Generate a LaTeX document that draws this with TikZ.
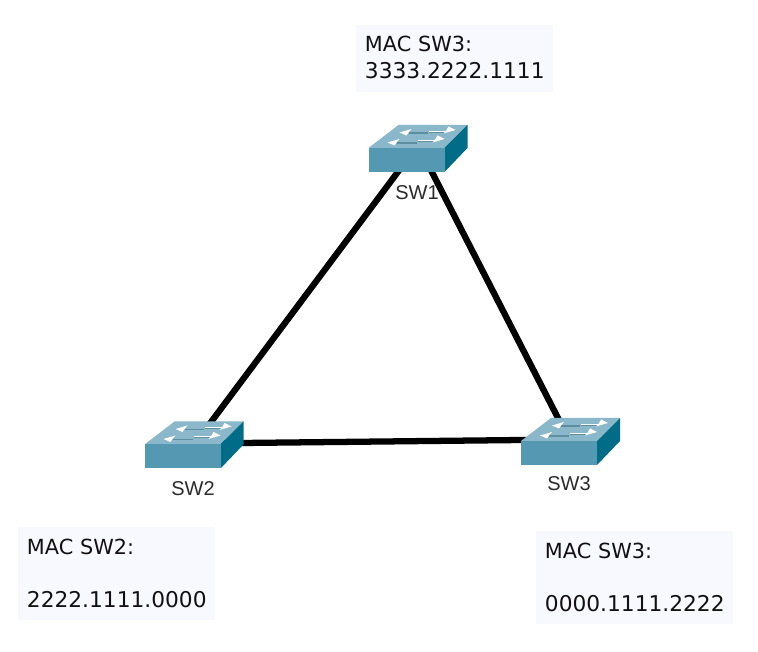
\documentclass[tikz,border=0pt]{standalone}
\usepackage{fontspec}
\setmainfont{DejaVu Sans}
\newfontfamily\labelfont{Liberation Sans}
\definecolor{swfront}{HTML}{5499B1}
\definecolor{swtop}{HTML}{8AB7C9}
\definecolor{swside}{HTML}{006C87}
\definecolor{swline}{HTML}{5F8DA0}
\definecolor{boxfill}{HTML}{F8F9FF}
\definecolor{inktext}{HTML}{111111}
\definecolor{swlabel}{HTML}{2B2B2B}
\newcommand{\dg}[1]{{\fontsize{16.3}{19.5}\selectfont #1}}
\tikzset{
  x=0.75pt,y=-0.75pt,
  link/.style={line width=4.7pt,black},
  macbox/.style={fill=boxfill,anchor=north west,inner xsep=6.5pt,inner ysep=0pt,text width=134.8pt,align=left,text=inktext,font=\fontsize{15.6}{19.5}\selectfont},
  swname/.style={text=swlabel,font=\labelfont\fontsize{15}{18}\selectfont,inner sep=0pt},
  arr/.style={white,line width=0.7pt},
  arrshade/.style={swline,line width=1pt},
  swicon/.pic={
    \fill[swtop] (0,0) -- (30,-23) -- (99,-23) -- (76,0) -- cycle;
    \fill[swside] (76,0) -- (99,-23) -- (99,0) -- (76,24) -- cycle;
    \fill[swfront] (0,0) rectangle (76,24);
    % upper row
    \draw[arrshade] (40,-15) -- (59,-15);
    \fill[white] (31,-15.5) -- (43,-19) -- (40,-15.5) -- (38,-12.5) -- cycle;
    \draw[arrshade] (60,-16) -- (78,-16);
    \draw[arr] (60,-17) -- (80,-17);
    \fill[white] (87,-18) -- (75,-14.5) -- (78,-18) -- (80,-21.5) -- cycle;
    % lower row
    \draw[arrshade] (28,-5) -- (48,-5);
    \fill[white] (19,-5.5) -- (31,-9) -- (28,-5.5) -- (26,-2.5) -- cycle;
    \draw[arrshade] (49,-7) -- (67,-7);
    \draw[arr] (49,-8) -- (69,-8);
    \fill[white] (76,-9) -- (64,-5.5) -- (67,-9) -- (69,-12.5) -- cycle;
  }
}
\begin{document}
\begin{tikzpicture}
\useasboundingbox (0,0) rectangle (758,652);
\fill[white] (0,0) rectangle (758,652);
% named centres of the three switches
\coordinate (sw1) at (418,145);
\coordinate (sw2) at (195,443.5);
\coordinate (sw3) at (569,439.5);
% links
\draw[link] (sw1) -- (sw2);
\draw[link] (sw1) -- (sw3);
\draw[link] (sw2) -- (sw3);
% switches
\pic at (368.5,148) {swicon};
\pic at (144.5,444.5) {swicon};
\pic at (521,441) {swicon};
% switch names
\node[swname] (name1) at (417,193) {SW1};
\node[swname] (name2) at (193,489) {SW2};
\node[swname] (name3) at (569,484) {SW3};
% address boxes
\node[macbox,minimum height=50.25pt] (mac1) at (356,25) {\rule{0pt}{16pt}MAC SW3:\\[1.15pt]\dg{3333.2222.1111}\rule[-6.35pt]{0pt}{1pt}};
\node[macbox,minimum height=69.75pt] (mac2) at (18,527) {\rule{0pt}{16pt}MAC SW2:\\[20.25pt]\dg{2222.1111.0000}\rule[-5.25pt]{0pt}{1pt}};
\node[macbox,minimum height=69.75pt] (mac3) at (536,531) {\rule{0pt}{16pt}MAC SW3:\\[20.25pt]\dg{0000.1111.2222}\rule[-5.25pt]{0pt}{1pt}};
\end{tikzpicture}
\end{document}
